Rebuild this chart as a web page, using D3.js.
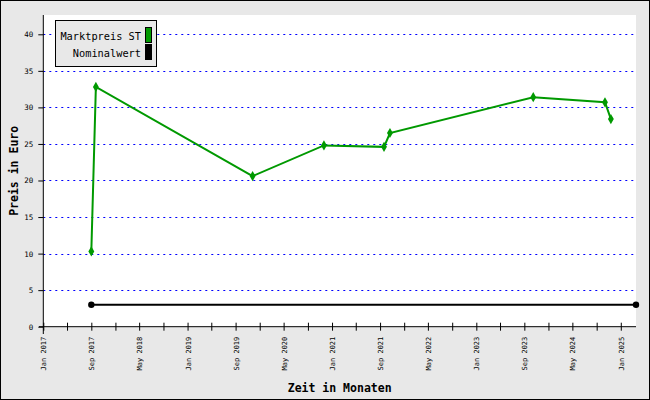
<!DOCTYPE html>
<html><head><meta charset="utf-8">
<script src="https://cdn.jsdelivr.net/npm/d3@7/dist/d3.min.js"></script>
<style>body{margin:0;padding:0;background:#fff}svg{display:block}</style>
</head><body>
<script>
const marketDates = ["2017-09-01","2017-09-24","2019-11-26","2020-11-21","2021-09-21","2021-10-21","2023-10-16","2024-10-13","2024-11-12"];
const marketValues = [10.3, 32.8, 20.6, 24.8, 24.6, 26.5, 31.4, 30.7, 28.4];
const nominalDates = ["2017-09-01","2025-03-19"];
const nominalValues = [3, 3];
const yTicks = [0,5,10,15,20,25,30,35,40];
const seriesNames = ["Marktpreis ST","Nominalwert"];
const seriesColors = ["#009900","#000000"];

const W=650,H=400;
const svg=d3.select("body").append("svg").attr("width",W).attr("height",H);
const font="'DejaVu Sans Mono', monospace";
svg.append("rect").attr("x",0.5).attr("y",0.5).attr("width",W-1).attr("height",H-1).attr("fill","#e8e8e8").attr("stroke","#000");

const pL=43.3,pR=636,pT=15,pB=326.7;
svg.append("rect").attr("x",pL).attr("y",pT).attr("width",pR-pL).attr("height",pB-pT).attr("fill","#fff");

const parse=d3.timeParse("%Y-%m-%d");
const x=d3.scaleTime().domain([new Date(2017,0,1), parse(nominalDates[1])]).range([pL,pR]);
const y=d3.scaleLinear().domain([0, d3.max(marketValues)*1.3]).range([pB,pT]);

// grid
svg.append("g").selectAll("line").data(yTicks.filter(d=>d>0)).join("line")
  .attr("x1",pL).attr("x2",pR).attr("y1",d=>Math.round(y(d))+0.5).attr("y2",d=>Math.round(y(d))+0.5)
  .attr("stroke","#0000ff").attr("stroke-width",1).attr("stroke-dasharray","2,4");

// y axis
const ya=svg.append("g").attr("transform",`translate(${pL},0)`)
  .call(d3.axisLeft(y).tickValues(yTicks).tickSize(5).tickPadding(5).tickFormat(d3.format("d")));
ya.select(".domain").remove();
ya.selectAll("line").attr("stroke","#000");
ya.selectAll("text").attr("font-family",font).attr("font-size",7.5).attr("fill","#000");
svg.append("line").attr("x1",pL).attr("x2",pL).attr("y1",pT).attr("y2",334).attr("stroke","#000");

// x axis
const months=d3.timeMonth.every(4).range(new Date(2017,0,1), parse(nominalDates[1]));
const xa=svg.append("g").attr("transform",`translate(0,${pB})`)
  .call(d3.axisBottom(x).tickValues(months).tickSize(4).tickFormat(d=> (d3.timeMonth.count(new Date(2017,0,1),d)%8===0)? d3.timeFormat("%b %Y")(d):""));
xa.select(".domain").remove();
xa.selectAll("line").attr("stroke","#000").attr("y1",-4);
xa.selectAll("text").attr("font-family",font).attr("font-size",7).attr("fill","#000")
  .attr("transform","rotate(-90)").attr("text-anchor","end").attr("x",-10).attr("y",0).attr("dy","0.35em");
svg.append("line").attr("x1",39).attr("x2",pR).attr("y1",pB).attr("y2",pB).attr("stroke","#000");

// nominal line
const nomData=nominalDates.map((d,i)=>({d:parse(d),v:nominalValues[i]}));
const line=d3.line().x(p=>x(p.d)).y(p=>y(p.v));
svg.append("path").datum(nomData).attr("d",line).attr("fill","none").attr("stroke",seriesColors[1]).attr("stroke-width",2);
svg.append("g").selectAll("circle").data(nomData).join("circle").attr("cx",p=>x(p.d)).attr("cy",p=>y(p.v)).attr("r",3.2).attr("fill","#000");

// market line
const mData=marketDates.map((d,i)=>({d:parse(d),v:marketValues[i]}));
svg.append("path").datum(mData).attr("d",line).attr("fill","none").attr("stroke",seriesColors[0]).attr("stroke-width",2);
svg.append("g").selectAll("path").data(mData).join("path")
  .attr("d",d3.symbol(d3.symbolDiamond,30)()).attr("transform",p=>`translate(${x(p.d)},${y(p.v)})`).attr("fill",seriesColors[0]);

// legend
svg.append("rect").attr("x",55.5).attr("y",20.5).attr("width",101).attr("height",46).attr("fill","#e8e8e8").attr("stroke","#000");
seriesNames.forEach((n,i)=>{
  svg.append("rect").attr("x",145.5).attr("y",27.5+i*17).attr("width",6).attr("height",15).attr("fill",seriesColors[i]).attr("stroke","#000");
  svg.append("text").attr("x",141).attr("y",40+i*17).attr("text-anchor","end").attr("font-family",font).attr("font-size",10.3).text(n);
});

// titles
svg.append("text").attr("x",(pL+pR)/2).attr("y",392).attr("text-anchor","middle").attr("font-family",font).attr("font-weight","bold").attr("font-size",11.5).text("Zeit in Monaten");
svg.append("text").attr("transform",`translate(18,${(pT+pB)/2}) rotate(-90)`).attr("text-anchor","middle").attr("font-family",font).attr("font-weight","bold").attr("font-size",11.5).text("Preis in Euro");
</script>
</body></html>
